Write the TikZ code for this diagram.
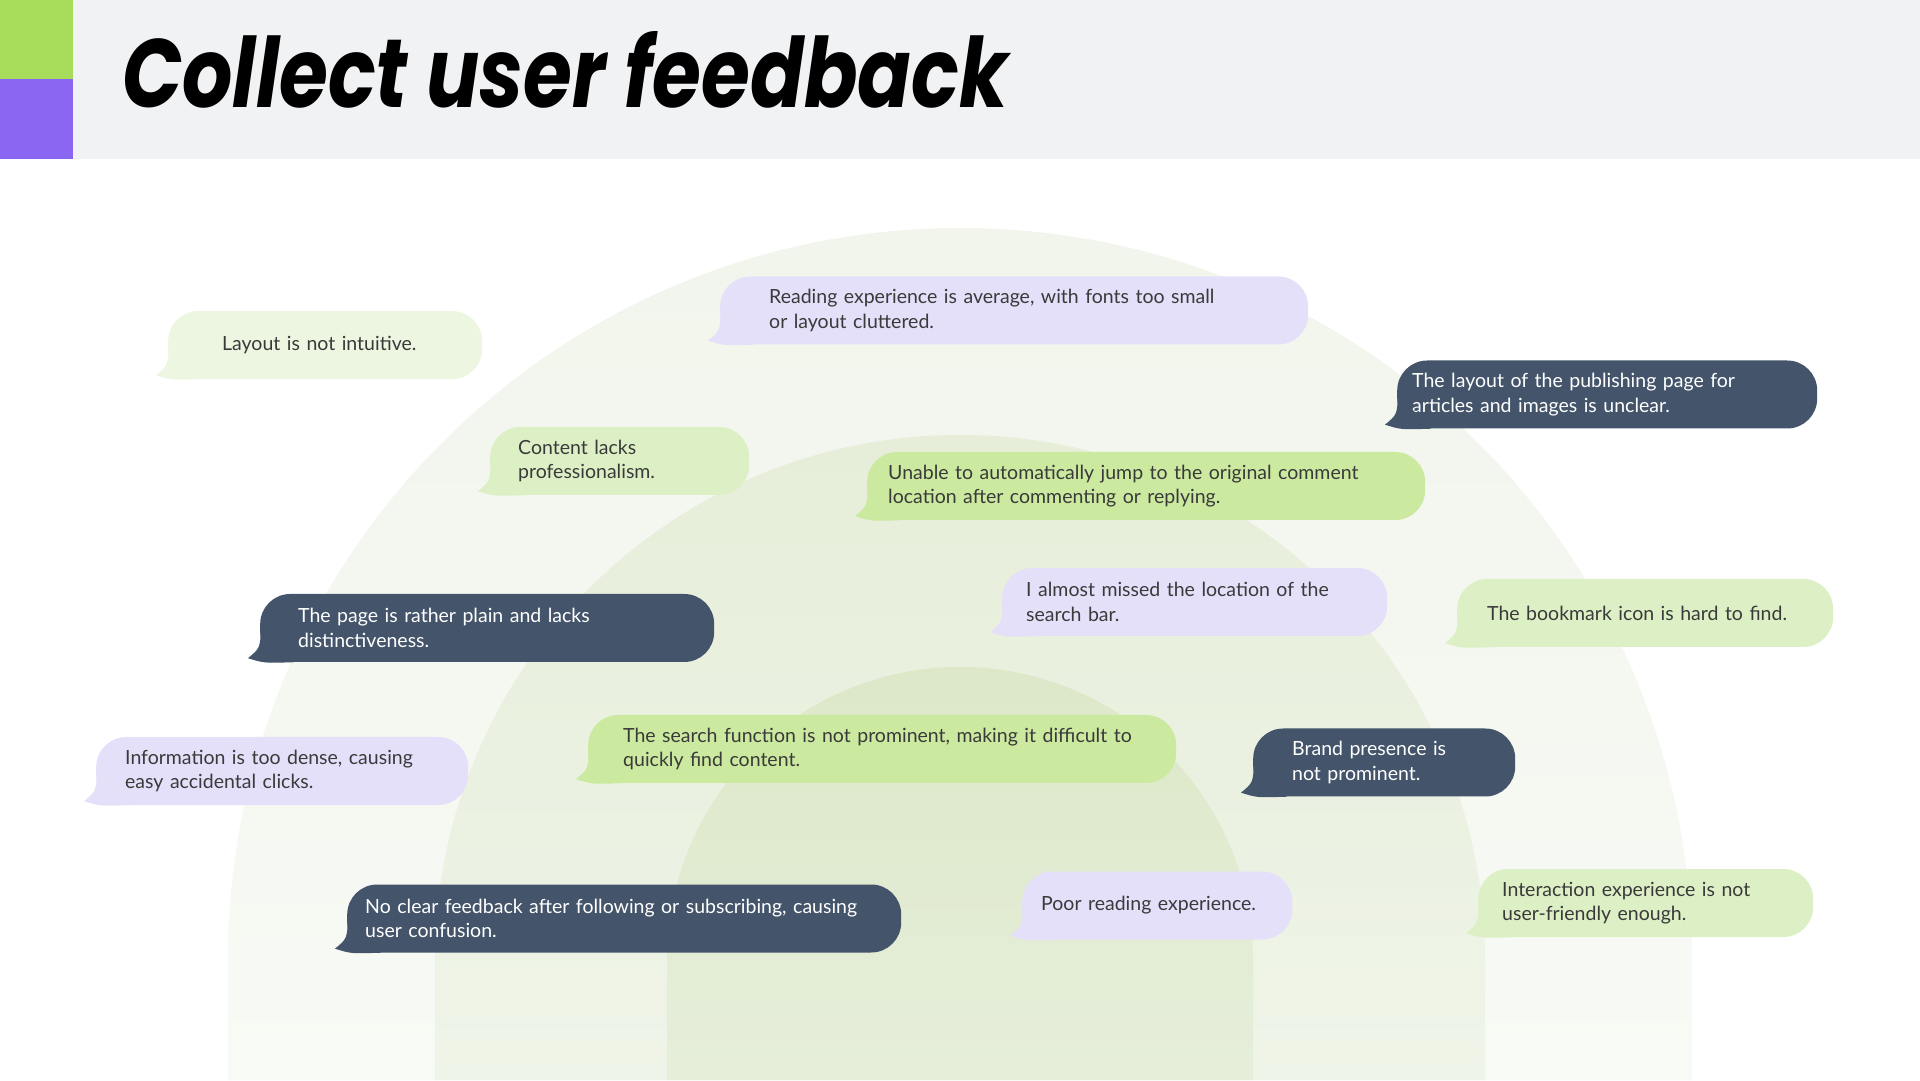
\documentclass[tikz,border=0pt]{standalone}
\usepackage{fontspec}
\setmainfont{Lato}
\newfontfamily\titlefont{Poppins}
\usepackage{xcolor}
\usetikzlibrary{positioning, calc}

\definecolor{barbg}{HTML}{F1F2F4}
\definecolor{sqgreen}{HTML}{A8DD5B}
\definecolor{sqpurple}{HTML}{8A66F2}
\definecolor{archA}{HTML}{F1F5EC}
\definecolor{archAb}{HTML}{F8FAF5}
\definecolor{archB}{HTML}{E6EED9}
\definecolor{archBb}{HTML}{EFF4E8}
\definecolor{archC}{HTML}{DCE8C8}
\definecolor{archCb}{HTML}{E6EEDA}
\definecolor{lav}{HTML}{E4E0FA}
\definecolor{paleg}{HTML}{EDF6E1}
\definecolor{softg}{HTML}{DDF0C5}
\definecolor{limeg}{HTML}{CCE9A0}
\definecolor{slate}{HTML}{44546A}
\definecolor{ink}{HTML}{3A3A3A}

\begin{document}
\begin{tikzpicture}[
    x=1pt, y=1pt,
    bubble/.style={rectangle, rounded corners=30pt, minimum height=68pt, align=left, anchor=west,
        font=\fontsize{19.5}{24.5}\selectfont, inner ysep=0pt},
    lavbox/.style={bubble, fill=lav, text=ink},
    palebox/.style={bubble, fill=paleg, text=ink},
    softbox/.style={bubble, fill=softg, text=ink},
    limebox/.style={bubble, fill=limeg, text=ink},
    darkbox/.style={bubble, fill=slate, text=white}
]
    \useasboundingbox (0,0) rectangle (1920,1080);
    % title bar
    \fill[barbg] (0,921) rectangle (1920,1080);
    \fill[sqgreen] (0,1001) rectangle (73,1080);
    \fill[sqpurple] (0,921) rectangle (73,1001);
    \node[anchor=base west, inner sep=0pt] (title) at (122,972)
        {\scalebox{0.815}[1]{\fontsize{97}{97}\selectfont\titlefont\bfseries\itshape Collect user feedback}};
    % arches
    \shade[top color=archA, bottom color=archAb] (228,0) -- (228,120) arc (180:0:732) -- (1692,0) -- cycle;
    \shade[top color=archB, bottom color=archBb] (435,0) -- (435,120) arc (180:0:525) -- (1485,0) -- cycle;
    \shade[top color=archC, bottom color=archCb] (667,0) -- (667,120) arc (180:0:293) -- (1253,0) -- cycle;
    % feedback bubbles
    \node[palebox, text width=206pt, inner xsep=54pt] (layout) at (168,735) {Layout is not intuitive.};
    \node[lavbox, text width=490pt, inner xsep=49pt] (reading) at (720,769.5) {Reading experience is average, with fonts too small\\or layout cluttered.};
    \node[darkbox, text width=390pt, inner xsep=15pt] (publish) at (1397,685.5) {The layout of the publishing page for\\articles and images is unclear.};
    \node[softbox, text width=203pt, inner xsep=28pt] (content) at (490,619) {Content lacks\\professionalism.};
    \node[limebox, text width=516pt, inner xsep=21pt] (jump) at (867,594) {Unable to automatically jump to the original comment\\location after commenting or replying.};
    \node[darkbox, text width=378pt, inner xsep=38pt] (plain) at (260,452) {The page is rather plain and lacks\\distinctiveness.};
    \node[lavbox, text width=337pt, inner xsep=24pt] (searchbar) at (1002,478) {I almost missed the location of the\\search bar.};
    \node[softbox, text width=316pt, inner xsep=30pt] (bookmark) at (1457,467) {The bookmark icon is hard to find.};
    \node[lavbox, text width=314pt, inner xsep=29pt] (dense) at (96,309) {Information is too dense, causing\\easy accidental clicks.};
    \node[limebox, text width=518pt, inner xsep=35pt] (search) at (588,331) {The search function is not prominent, making it difficult to\\quickly find content.};
    \node[darkbox, text width=184pt, inner xsep=39pt] (brand) at (1253,317.5) {Brand presence is\\not prominent.};
    \node[darkbox, text width=518pt, inner xsep=18pt] (follow) at (347,161.5) {No clear feedback after following or subscribing, causing\\user confusion.};
    \node[lavbox, text width=232pt, inner xsep=19pt] (poor) at (1022,174.5) {Poor reading experience.};
    \node[softbox, text width=287pt, inner xsep=24pt] (interact) at (1478,177) {Interaction experience is not\\user-friendly enough.};
    % tails
    \foreach \n/\c in {layout/paleg, reading/lav, publish/slate, content/softg, jump/limeg, plain/slate,
                      searchbar/lav, bookmark/softg, dense/lav, search/limeg, brand/slate, follow/slate,
                      poor/lav, interact/softg}
        \fill[\c] ($(\n.south west)+(1,34)$) .. controls ($(\n.south west)+(0,14)$) .. ($(\n.south west)+(-12,4)$)
            .. controls ($(\n.south west)+(4,-1)$) .. ($(\n.south west)+(34,0)$) -- cycle;
\end{tikzpicture}
\end{document}
